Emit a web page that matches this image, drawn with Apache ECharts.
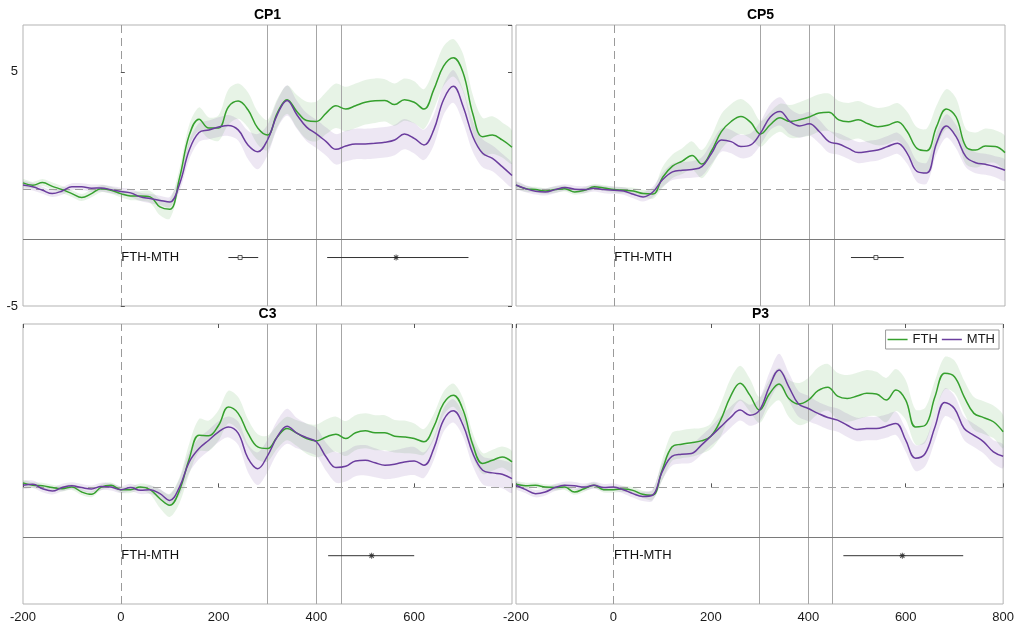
<!DOCTYPE html>
<html>
<head>
<meta charset="utf-8">
<script src="https://cdn.jsdelivr.net/npm/echarts@6/dist/echarts.min.js"></script>
<style>html,body{margin:0;padding:0;background:#fff}#c{width:1017px;height:626px}</style>
</head>
<body>
<div id="c"></div>
<script>
const panelTitles = ['CP1', 'CP5', 'C3', 'P3'];
const timeMs = [-200,-180,-160,-140,-120,-100,-80,-60,-40,-20,0,20,40,60,80,100,120,140,160,180,200,220,240,260,280,300,320,340,360,380,400,420,440,460,480,500,520,540,560,580,600,620,640,660,680,700,720,740,760,780,800];
const xTicks = [-200, 0, 200, 400, 600, 800];
const yTicks = [-5, 5];
const seriesNames = ['FTH', 'MTH'];
const contrastLabel = 'FTH-MTH';

// ---- CP1 ----
const fthCP1 = [0.26,0.16,0.27,0.11,-0.03,-0.2,-0.37,-0.2,0.01,-0.06, -0.2,-0.3,-0.3,-0.34,-0.77,-0.87,0.46,2.3,2.98,2.6, 2.6,3.5,3.75,3.38,2.6,2.3,3.24,3.81,3.31,2.92, 2.88,3.24,3.55,3.41,3.55,3.7,3.77,3.78,3.6,3.81, 3.7,3.41,4.24,5.24,5.6,4.96,3.2,2.23,2.3,2.09, 1.78];
const mthCP1 = [0.17,0.09,-0.06,-0.2,-0.09,0.09,0.09,0.03,0.04,-0.03, -0.11,-0.17,-0.34,-0.41,-0.49,-0.56,0.2,1.66,2.41,2.52, 2.64,2.71,2.52,1.88,1.59,2.09,3.17,3.78,3.17,2.64, 2.35,2.02,1.69,1.83,1.92,1.92,1.95,1.99,2.09,2.34, 2.16,1.88,2.52,3.81,4.38,3.52,2.23,1.52,1.3,0.95, 0.57];
const fthSeCP1 = [0.15,0.14,0.15,0.16,0.15,0.14,0.15,0.16,0.15,0.15, 0.16,0.18,0.2,0.25,0.35,0.4,0.4,0.45,0.5,0.45, 0.55,0.75,0.75,0.75,0.7,0.65,0.6,0.6,0.7,0.8, 0.85,0.9,0.95,0.95,0.95,0.95,0.95,0.9,0.9,0.9, 0.9,0.85,0.85,0.85,0.8,0.8,0.8,0.8,0.8,0.75, 0.7];
const mthSeCP1 = [0.15,0.16,0.15,0.15,0.16,0.15,0.15,0.16,0.15,0.15, 0.16,0.17,0.18,0.2,0.2,0.22,0.3,0.4,0.4,0.4, 0.42,0.45,0.45,0.6,0.75,0.65,0.6,0.65,0.6,0.6, 0.6,0.6,0.65,0.65,0.65,0.65,0.65,0.65,0.65,0.65, 0.65,0.65,0.65,0.65,0.7,0.7,0.65,0.6,0.55,0.55, 0.5];

// ---- CP5 ----
const fthCP5 = [0.16,0.01,-0.03,-0.09,-0.03,0.01,-0.13,-0.06,0.09,0.04, -0.03,-0.06,-0.09,-0.2,-0.22,0.5,0.97,1.19,1.43,1.06, 1.63,2.45,2.88,3.09,2.84,2.35,2.74,3.04,2.88,2.95, 3.07,3.24,3.27,2.95,2.87,2.95,2.78,2.66,2.72,2.87, 2.45,1.73,1.63,2.66,3.41,3.07,1.81,1.66,1.83,1.81, 1.55];
const mthCP5 = [0.17,0.01,-0.1,-0.13,-0.03,0.06,-0.01,-0.03,0.03,-0.03, -0.06,-0.09,-0.23,-0.34,-0.13,0.4,0.73,0.8,0.83,0.95, 1.52,2.09,2.02,1.81,1.88,2.38,3.07,3.31,2.88,2.69, 2.78,2.45,2.02,1.92,1.73,1.55,1.6,1.66,1.81,1.95, 1.52,0.75,0.68,1.95,2.69,2.23,1.38,1.12,1.05,0.95, 0.8];
const fthSeCP5 = [0.12,0.13,0.12,0.12,0.13,0.12,0.12,0.13,0.12,0.12, 0.13,0.13,0.14,0.16,0.2,0.45,0.5,0.55,0.6,0.6, 0.65,0.75,0.75,0.75,0.7,0.55,0.55,0.6,0.7,0.75, 0.8,0.8,0.8,0.8,0.8,0.8,0.8,0.8,0.8,0.8, 0.85,0.9,0.95,0.9,0.85,0.8,0.75,0.75,0.75,0.7, 0.7];
const mthSeCP5 = [0.15,0.15,0.14,0.15,0.15,0.14,0.15,0.15,0.14,0.15, 0.15,0.16,0.17,0.2,0.22,0.3,0.35,0.35,0.35,0.4, 0.45,0.5,0.5,0.5,0.5,0.5,0.55,0.6,0.55,0.5, 0.5,0.5,0.48,0.46,0.45,0.45,0.45,0.45,0.45,0.45, 0.45,0.45,0.45,0.45,0.5,0.5,0.45,0.45,0.45,0.45, 0.45];

// ---- C3 ----
const fthC3 = [0.19,0.09,0.07,-0.01,-0.06,0.01,-0.2,-0.3,0.01,0.09, -0.1,-0.1,0.01,-0.1,-0.49,-0.77,-0.13,1.23,2.23,2.21, 2.66,3.44,3.17,2.32,1.73,1.66,2.16,2.52,2.32,2.09, 1.99,2.16,2.28,2.09,2.34,2.42,2.34,2.34,2.19,2.16, 2.09,1.95,2.59,3.6,3.95,3.31,1.81,1.02,1.16,1.3, 1.09];
const mthC3 = [0.09,0.13,-0.06,-0.16,-0.01,0.07,-0.01,-0.07,0.04,0.01, -0.1,-0.01,-0.13,-0.1,-0.27,-0.56,0.01,1.09,1.66,2.02, 2.38,2.59,2.32,1.25,0.8,1.35,2.16,2.62,2.32,2.13, 1.95,1.3,0.85,0.9,1.13,1.16,1.05,0.95,0.99,1.09, 1.13,0.95,1.66,2.88,3.28,2.66,1.45,0.73,0.62,0.56, 0.37];
const fthSeC3 = [0.12,0.12,0.13,0.12,0.12,0.12,0.13,0.12,0.12,0.12, 0.13,0.14,0.15,0.2,0.4,0.5,0.55,0.65,0.7,0.65, 0.65,0.7,0.7,0.6,0.55,0.55,0.5,0.5,0.55,0.65, 0.7,0.75,0.75,0.75,0.75,0.75,0.75,0.75,0.7,0.7, 0.65,0.55,0.55,0.5,0.5,0.5,0.5,0.45,0.45,0.45, 0.45];
const mthSeC3 = [0.15,0.16,0.15,0.15,0.16,0.15,0.15,0.15,0.16,0.15, 0.15,0.16,0.16,0.18,0.2,0.25,0.35,0.45,0.45,0.45, 0.45,0.45,0.5,0.6,0.7,0.7,0.7,0.75,0.65,0.6, 0.6,0.6,0.65,0.65,0.65,0.65,0.62,0.6,0.6,0.6, 0.6,0.55,0.5,0.5,0.5,0.5,0.55,0.6,0.6,0.6, 0.6];

// ---- P3 ----
const fthP3 = [0.13,0.07,0.09,0.01,-0.01,0.01,-0.2,-0.06,0.09,-0.1, -0.1,-0.07,-0.13,-0.3,-0.34,0.73,1.73,1.85,1.91,1.99, 2.19,2.88,3.88,4.46,3.95,3.31,4.0,4.43,3.81,3.57, 3.74,4.14,4.29,3.91,3.81,3.91,4.03,4.0,3.74,4.17, 3.74,2.59,2.66,3.88,4.89,4.74,3.88,3.17,2.99,2.81, 2.38];
const mthP3 = [0.09,-0.1,-0.27,-0.2,-0.01,0.09,0.07,0.01,0.09,-0.01, 0.01,-0.1,-0.27,-0.39,-0.34,0.66,1.33,1.42,1.45,1.8, 2.19,2.59,2.99,3.31,3.09,3.31,4.31,5.03,4.31,3.57, 3.38,3.17,2.99,2.88,2.66,2.48,2.52,2.52,2.62,2.74, 2.02,1.25,1.45,2.59,3.64,3.38,2.52,2.23,1.95,1.52, 1.33];
const fthSeP3 = [0.12,0.13,0.12,0.12,0.13,0.12,0.12,0.13,0.12,0.12, 0.13,0.13,0.14,0.15,0.2,0.45,0.6,0.6,0.6,0.55, 0.55,0.7,0.75,0.75,0.7,0.55,0.6,0.7,0.8,0.9, 0.95,1.0,1.0,1.0,1.0,1.0,1.0,0.95,0.95,0.9, 0.85,0.75,0.75,0.7,0.7,0.7,0.7,0.7,0.7,0.7, 0.7];
const mthSeP3 = [0.15,0.15,0.16,0.15,0.15,0.15,0.16,0.15,0.15,0.15, 0.15,0.16,0.17,0.2,0.25,0.35,0.4,0.4,0.4,0.4, 0.4,0.45,0.45,0.45,0.45,0.5,0.6,0.7,0.6,0.55, 0.55,0.5,0.5,0.5,0.5,0.5,0.5,0.5,0.5,0.5, 0.5,0.55,0.55,0.6,0.6,0.55,0.5,0.5,0.5,0.5, 0.5];

// ---- FTH-MTH effect windows (ms) ----
const effectLow  = [[220, 422], [485], [424], [472]];
const effectMid  = [[244, 563], [536], [513], [593]];
const effectHigh = [[281, 711], [593], [600], [718]];
const effectMark = [['square', 'star'], ['square'], ['star'], ['star']];

// ---- reference lines ----
const windowLines = [300, 400, 450];
const dividerLevel = -2.15;
const contrastLevel = -2.93;

const fthByPanel = [fthCP1, fthCP5, fthC3, fthP3];
const mthByPanel = [mthCP1, mthCP5, mthC3, mthP3];
const fthSeByPanel = [fthSeCP1, fthSeCP5, fthSeC3, fthSeP3];
const mthSeByPanel = [mthSeCP1, mthSeCP5, mthSeC3, mthSeP3];

const FONT = 'Liberation Sans, Arial, Helvetica, sans-serif';
const GREEN = '#36a02e';
const PURPLE = '#6b3d9e';
const GREEN_BAND = 'rgba(54,160,46,0.12)';
const PURPLE_BAND = 'rgba(107,61,158,0.12)';
const TXT = '#1a1a1a';

const gridPos = [
  {left: 23, top: 25, width: 489, height: 281},
  {left: 516, top: 25, width: 489, height: 281},
  {left: 23, top: 324, width: 489, height: 280},
  {left: 516, top: 324, width: 489, height: 280}
];

const grids = gridPos.map(g => Object.assign({show: true, borderColor: '#b3b3b3', borderWidth: 1, backgroundColor: 'transparent', containLabel: false}, g));

const xAxes = [], yAxes = [], series = [], graphics = [];
const starPath = 'path://M4.2,0h1.6v10h-1.6z M0,4.2h10v1.6h-10z M0.9,2.0l1.1-1.1l7.1,7.1l-1.1,1.1z M8.0,0.9l1.1,1.1l-7.1,7.1l-1.1-1.1z';

for (let p = 0; p < 4; p++) {
  const isBottom = p >= 2;
  const isLeft = p % 2 === 0;
  xAxes.push({
    type: 'value', gridIndex: p, min: xTicks[0], max: xTicks[xTicks.length - 1], interval: 200,
    position: 'bottom',
    axisLine: {show: false},
    axisTick: {show: isBottom, inside: true, length: 4, lineStyle: {color: '#555'}},
    axisLabel: {show: isBottom, margin: 7, color: TXT, fontFamily: FONT, fontSize: 13,
      formatter: v => (isLeft && v === 800) ? '' : String(v)},
    splitLine: {show: false}
  });
  yAxes.push({
    type: 'value', gridIndex: p, min: -5, max: 7, interval: 10,
    axisLine: {show: false},
    axisTick: {show: p === 0, inside: true, length: 4, lineStyle: {color: '#555'}},
    axisLabel: {show: p === 0, margin: 5, color: TXT, fontFamily: FONT, fontSize: 13, showMaxLabel: false,
      formatter: v => yTicks.indexOf(v) >= 0 ? String(v) : ''},
    splitLine: {show: false}
  });
}
// mirrored ticks
for (let p = 2; p < 4; p++) {
  xAxes.push({
    type: 'value', gridIndex: p, min: -200, max: 800, interval: 200, position: 'top',
    axisLine: {show: false}, axisLabel: {show: false}, splitLine: {show: false},
    axisTick: {show: true, inside: true, length: 4, lineStyle: {color: '#555'}}
  });
}
yAxes.push({
  type: 'value', gridIndex: 0, min: -5, max: 7, interval: 10, position: 'right',
  axisLine: {show: false}, axisLabel: {show: false}, splitLine: {show: false},
  axisTick: {show: true, inside: true, length: 4, lineStyle: {color: '#555'}}
});

function bandSeries(p, mean, se, color, name) {
  return {
    type: 'custom', name: name, xAxisIndex: p, yAxisIndex: p, silent: true, clip: true, z: 1,
    data: [[0, 0]],
    renderItem: function (params, api) {
      const up = timeMs.map((t, k) => api.coord([t, mean[k] + se[k]]));
      const lo = timeMs.map((t, k) => api.coord([t, mean[k] - se[k]])).reverse();
      return {type: 'polygon', shape: {points: up.concat(lo), smooth: 0.3}, style: {fill: color, stroke: null}};
    }
  };
}

for (let p = 0; p < 4; p++) {
  series.push(bandSeries(p, fthByPanel[p], fthSeByPanel[p], GREEN_BAND, 'FTH band'));
  series.push(bandSeries(p, mthByPanel[p], mthSeByPanel[p], PURPLE_BAND, 'MTH band'));

  const markData = [];
  windowLines.forEach(v => markData.push({xAxis: v, lineStyle: {color: '#a6a6a6', width: 1, type: 'solid'}}));
  markData.push({xAxis: 0, lineStyle: {color: '#9a9a9a', width: 1, type: [8, 5]}});
  markData.push({yAxis: 0, lineStyle: {color: '#a0a0a0', width: 1, type: [8, 5]}});
  markData.push({yAxis: dividerLevel, lineStyle: {color: '#7a7a7a', width: 1, type: 'solid'}});

  series.push({
    type: 'line', name: seriesNames[0], xAxisIndex: p, yAxisIndex: p, z: 4,
    data: timeMs.map((t, k) => [t, fthByPanel[p][k]]),
    smooth: 0.4, symbol: 'none', showSymbol: false, clip: true,
    lineStyle: {color: GREEN, width: 1.5}, itemStyle: {color: GREEN},
    markLine: {silent: true, symbol: ['none', 'none'], label: {show: false}, animation: false, z: 2, data: markData}
  });
  series.push({
    type: 'line', name: seriesNames[1], xAxisIndex: p, yAxisIndex: p, z: 5,
    data: timeMs.map((t, k) => [t, mthByPanel[p][k]]),
    smooth: 0.4, symbol: 'none', showSymbol: false, clip: true,
    lineStyle: {color: PURPLE, width: 1.5}, itemStyle: {color: PURPLE}
  });

  // contrast label
  series.push({
    type: 'scatter', xAxisIndex: p, yAxisIndex: p, symbolSize: 1, silent: true, z: 6,
    itemStyle: {opacity: 0},
    data: [[0, contrastLevel]],
    label: {show: true, position: 'right', distance: 0, formatter: contrastLabel,
      color: '#111', opacity: 1, fontFamily: FONT, fontSize: 13}
  });

  // effect windows
  effectLow[p].forEach((lo, j) => {
    series.push({
      type: 'line', xAxisIndex: p, yAxisIndex: p, silent: true, z: 6, symbol: 'none',
      data: [[lo, contrastLevel], [effectHigh[p][j], contrastLevel]],
      lineStyle: {color: '#333', width: 1}
    });
    const isSq = effectMark[p][j] === 'square';
    series.push({
      type: 'scatter', xAxisIndex: p, yAxisIndex: p, silent: true, z: 7,
      data: [[effectMid[p][j], contrastLevel]],
      symbol: isSq ? 'rect' : starPath,
      symbolSize: isSq ? 4 : 6,
      itemStyle: isSq ? {color: '#fff', borderColor: '#333', borderWidth: 1} : {color: '#222'}
    });
  });

  const g = gridPos[p];
  graphics.push({
    type: 'text', x: g.left + g.width / 2, y: g.top - 10,
    style: {text: panelTitles[p], textAlign: 'center', textVerticalAlign: 'middle',
      font: 'bold 14px ' + FONT, fill: '#000'}
  });
}

const chart = echarts.init(document.getElementById('c'), null, {renderer: 'canvas'});
chart.setOption({
  animation: false,
  backgroundColor: '#fff',
  grid: grids,
  xAxis: xAxes,
  yAxis: yAxes,
  series: series,
  graphic: graphics,
  legend: {
    data: seriesNames.map(n => ({name: n, icon: 'rect'})),
    right: 18, top: 330, orient: 'horizontal',
    padding: [3, 4, 3, 2], itemGap: 4, itemWidth: 20, itemHeight: 1.5,
    backgroundColor: '#fff', borderColor: '#9a9a9a', borderWidth: 1, borderRadius: 0,
    textStyle: {color: TXT, fontFamily: FONT, fontSize: 13}
  }
});
</script>
</body>
</html>
